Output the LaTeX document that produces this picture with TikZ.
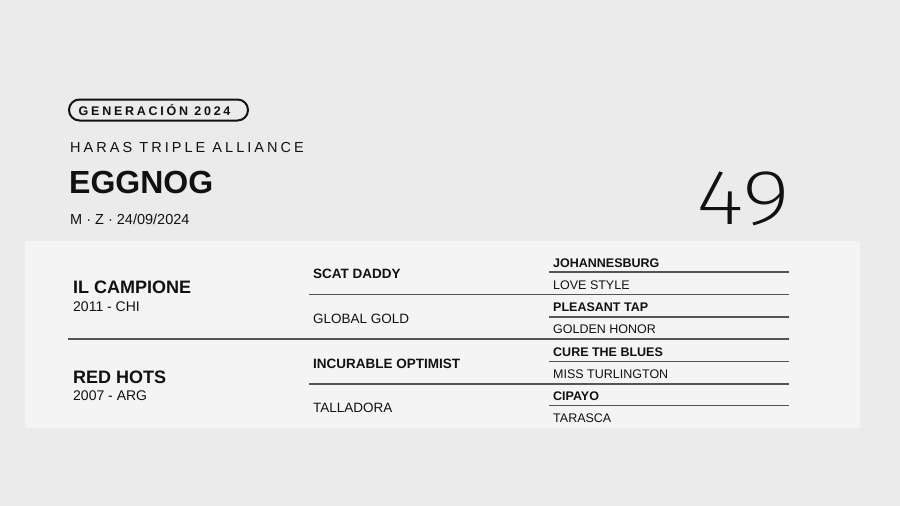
\documentclass[tikz,border=0pt]{standalone}
\usepackage{fontspec}
\setmainfont{Liberation Sans}
\newfontfamily\thinfont{Fira Sans ExtraLight}
\newfontfamily\spacedfont{Liberation Sans}[LetterSpace=21]
\newfontfamily\spacedbold{Liberation Sans Bold}[LetterSpace=22]
\definecolor{bgc}{HTML}{EBEBEB}
\definecolor{panelc}{HTML}{F4F4F4}
\definecolor{inkc}{HTML}{111111}
\definecolor{rulec}{HTML}{555555}
\tikzset{
  txt/.style={anchor=base west, inner sep=0pt, text=inkc},
  sep/.style={draw=rulec, line width=1.2pt},
  c1/.style={txt, font=\fontsize{18}{20}\selectfont\bfseries},
  c1s/.style={txt, font=\fontsize{14}{16}\selectfont},
  c2b/.style={txt, font=\fontsize{13.5}{15}\selectfont\bfseries},
  c2r/.style={txt, font=\fontsize{13.5}{15}\selectfont},
  c3b/.style={txt, font=\fontsize{12.5}{14}\selectfont\bfseries},
  c3r/.style={txt, font=\fontsize{12.5}{14}\selectfont},
}
\begin{document}
\begin{tikzpicture}[x=1pt,y=-1pt]
\useasboundingbox (0,0) rectangle (900,506);
\fill[bgc] (0,0) rectangle (900,506);
\fill[panelc] (25,241) rectangle (860,428);
% header
\draw[inkc, line width=2pt, rounded corners=10.5pt] (69,99.5) rectangle (248,120.5);
\node[txt, font=\spacedbold\fontsize{12.5}{14}\selectfont] (badge) at (78.5,115) {GENERACIÓN 2024};
\node[txt, font=\spacedfont\fontsize{14.5}{16}\selectfont] (haras) at (70,152.5) {HARAS TRIPLE ALLIANCE};
\node[txt, font=\fontsize{32}{34}\selectfont\bfseries] (name) at (69,193.5) {EGGNOG};
\node[txt, font=\fontsize{14.5}{16}\selectfont] (info) at (70,224.5) {M · Z · 24/09/2024};
\node[txt, xscale=1.19, font=\thinfont\fontsize{78}{82}\selectfont] (num) at (696,224) {49};
% separators
\draw[sep] (68,339) -- (789,339);
\draw[sep] (309,294.5) -- (789,294.5);
\draw[sep] (309,384) -- (789,384);
\foreach \yy in {272,317,361.5,405.5} \draw[sep] (549,\yy) -- (789,\yy);
% column 1
\node[c1] (s) at (73,293.5) {IL CAMPIONE};
\node[c1s] (sy) at (73,311) {2011 - CHI};
\node[c1] (d) at (73,383) {RED HOTS};
\node[c1s] (dy) at (73,400) {2007 - ARG};
% column 2
\node[c2b] (ss) at (313,278.5) {SCAT DADDY};
\node[c2r] (sd) at (313,323.5) {GLOBAL GOLD};
\node[c2b] (ds) at (313,368) {INCURABLE OPTIMIST};
\node[c2r] (dd) at (313,412.5) {TALLADORA};
% column 3
\node[c3b] (sss) at (553,267) {JOHANNESBURG};
\node[c3r] (ssd) at (553,289) {LOVE STYLE};
\node[c3b] (sds) at (553,311) {PLEASANT TAP};
\node[c3r] (sdd) at (553,333) {GOLDEN HONOR};
\node[c3b] (dss) at (553,356) {CURE THE BLUES};
\node[c3r] (dsd) at (553,378) {MISS TURLINGTON};
\node[c3b] (dds) at (553,400) {CIPAYO};
\node[c3r] (ddd) at (553,422) {TARASCA};
\end{tikzpicture}
\end{document}
